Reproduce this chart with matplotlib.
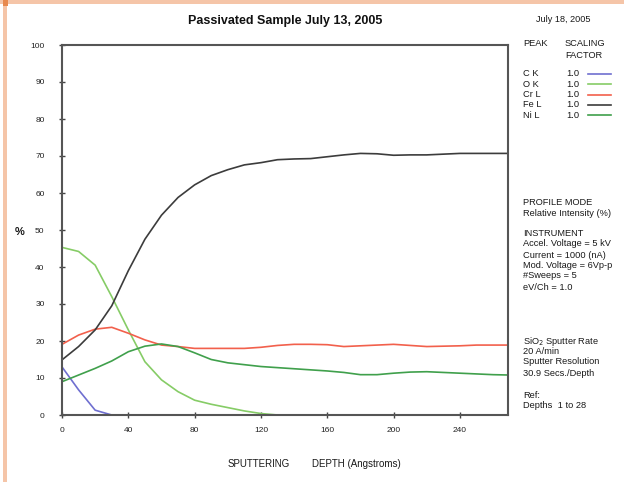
import numpy as np
import matplotlib
matplotlib.use("Agg")
import matplotlib.pyplot as plt
from matplotlib.patches import Rectangle

plt.rcParams['font.family'] = ['Liberation Sans', 'DejaVu Sans']

depth = [0, 10, 20, 30, 40, 50, 60, 70, 80, 90, 100, 110, 120, 130, 140,
         150, 160, 170, 180, 190, 200, 210, 220, 230, 240, 250, 260, 270]

c_k = [13.0, 6.8, 1.3, 0.0] + [None] * 24
o_k = [45.3, 44.2, 40.5, 32.0, 23.0, 14.4, 9.5, 6.3, 4.0, 2.9, 2.0, 1.1, 0.4, 0.0] + [None] * 14
cr_l = [19.1, 21.6, 23.2, 23.7, 22.1, 20.3, 18.9, 18.5, 18.0, 18.0, 18.0, 18.0, 18.3, 18.8,
        19.1, 19.1, 19.0, 18.5, 18.7, 18.9, 19.1, 18.8, 18.5, 18.6, 18.7, 18.9, 18.9, 18.9]
fe_l = [14.9, 18.5, 23.0, 29.5, 39.0, 47.5, 54.0, 58.8, 62.2, 64.7, 66.3, 67.6, 68.2, 69.0,
        69.2, 69.3, 69.8, 70.3, 70.7, 70.6, 70.2, 70.3, 70.3, 70.5, 70.7, 70.7, 70.7, 70.7]
ni_l = [9.0, 10.8, 12.6, 14.6, 17.1, 18.6, 19.2, 18.5, 16.8, 15.0, 14.1, 13.6, 13.1, 12.8,
        12.5, 12.2, 11.9, 11.5, 10.9, 10.9, 11.3, 11.6, 11.7, 11.5, 11.3, 11.1, 10.9, 10.8]

peaks = ["C K", "O K", "Cr L", "Fe L", "Ni L"]
scales = ["1.0", "1.0", "1.0", "1.0", "1.0"]
colors = ["#6f6fd0", "#86cc66", "#f2604c", "#3c3c3c", "#40a04c"]
series = [c_k, o_k, cr_l, fe_l, ni_l]

xticks = [0, 40, 80, 120, 160, 200, 240]
yticks = [0, 10, 20, 30, 40, 50, 60, 70, 80, 90, 100]

W, H = 624, 482
fig = plt.figure(figsize=(W / 100, H / 100), dpi=100)
fig.patch.set_facecolor("white")

# peach border
fig.patches.append(Rectangle((0, 1 - 4 / H), 1, 4 / H, transform=fig.transFigure,
                             facecolor="#f5c5a8", edgecolor="none"))
fig.patches.append(Rectangle((3 / W, 0), 4 / W, 1, transform=fig.transFigure,
                             facecolor="#f5c5a8", edgecolor="none"))
fig.patches.append(Rectangle((3 / W, 1 - 6 / H), 5 / W, 6 / H, transform=fig.transFigure,
                             facecolor="#e8894e", edgecolor="none"))

ax = fig.add_axes([62 / W, 1 - 415 / H, 446 / W, 370 / H])
x = np.array(depth, dtype=float)
for s, c in zip(series, colors):
    y = np.array([np.nan if v is None else v for v in s], dtype=float)
    ax.plot(x, y, color=c, lw=1.2)

ax.set_xlim(0, 269)
ax.set_ylim(0, 100)
ax.set_xticks(xticks)
ax.set_yticks(yticks)
ax.tick_params(direction="inout", length=5, width=1, colors="#444444",
               labelsize=6, labelcolor="#222222")
ax.tick_params(axis="y", pad=10)
ax.tick_params(axis="x", pad=6)
for sp in ax.spines.values():
    sp.set_color("#555555")
    sp.set_linewidth(1.5)

tc = "#1a1a1a"
fig.text(285 / W, 1 - 21 / H, "Passivated Sample July 13, 2005", ha="center", va="center",
         fontsize=9, fontweight="bold", color="#111111")
fig.text(563 / W, 1 - 20 / H, "July 18, 2005", ha="center", va="center",
         fontsize=6.6, color=tc)
fig.text(20 / W, 1 - 232 / H, "%", ha="center", va="center", fontsize=8,
         fontweight="bold", color=tc)
fig.text(259 / W, 1 - 464 / H, "SPUTTERING", ha="center", va="center",
         fontsize=7, color=tc)
fig.text(356 / W, 1 - 464 / H, "DEPTH (Angstroms)", ha="center", va="center",
         fontsize=7, color=tc)

tx = 523 / W
fs = 6.7
fig.text(tx, 1 - 44 / H, "PEAK", ha="left", va="center", fontsize=fs, color=tc)
fig.text(565 / W, 1 - 44 / H, "SCALING", ha="left", va="center", fontsize=fs, color=tc)
fig.text(565 / W, 1 - 55 / H, "FACTOR", ha="left", va="center", fontsize=fs, color=tc)
for i, (p, sc, c) in enumerate(zip(peaks, scales, colors)):
    yy = 1 - (74 + i * 10.3) / H
    fig.text(tx, yy, p, ha="left", va="center", fontsize=fs, color=tc)
    fig.text(566 / W, yy, sc, ha="left", va="center", fontsize=fs, color=tc)
    fig.add_artist(plt.Line2D([588 / W, 611 / W], [yy, yy], transform=fig.transFigure,
                              color=c, lw=1.2))

lines = [
    (202, "PROFILE MODE"), (213, "Relative Intensity (%)"),
    (233, "INSTRUMENT"), (244, "Accel. Voltage = 5 kV"), (255, "Current = 1000 (nA)"),
    (265, "Mod. Voltage = 6Vp-p"), (276, "#Sweeps = 5"), (287, "eV/Ch = 1.0"),
    (341, "SiO$_2$ Sputter Rate"), (352, "20 A/min"), (362, "Sputter Resolution"),
    (373, "30.9 Secs./Depth"), (396, "Ref:"), (406, "Depths  1 to 28"),
]
for yy, t in lines:
    fig.text(tx, 1 - yy / H, t, ha="left", va="center", fontsize=fs, color=tc)

fig.savefig("out.png", dpi=100, facecolor="white")
